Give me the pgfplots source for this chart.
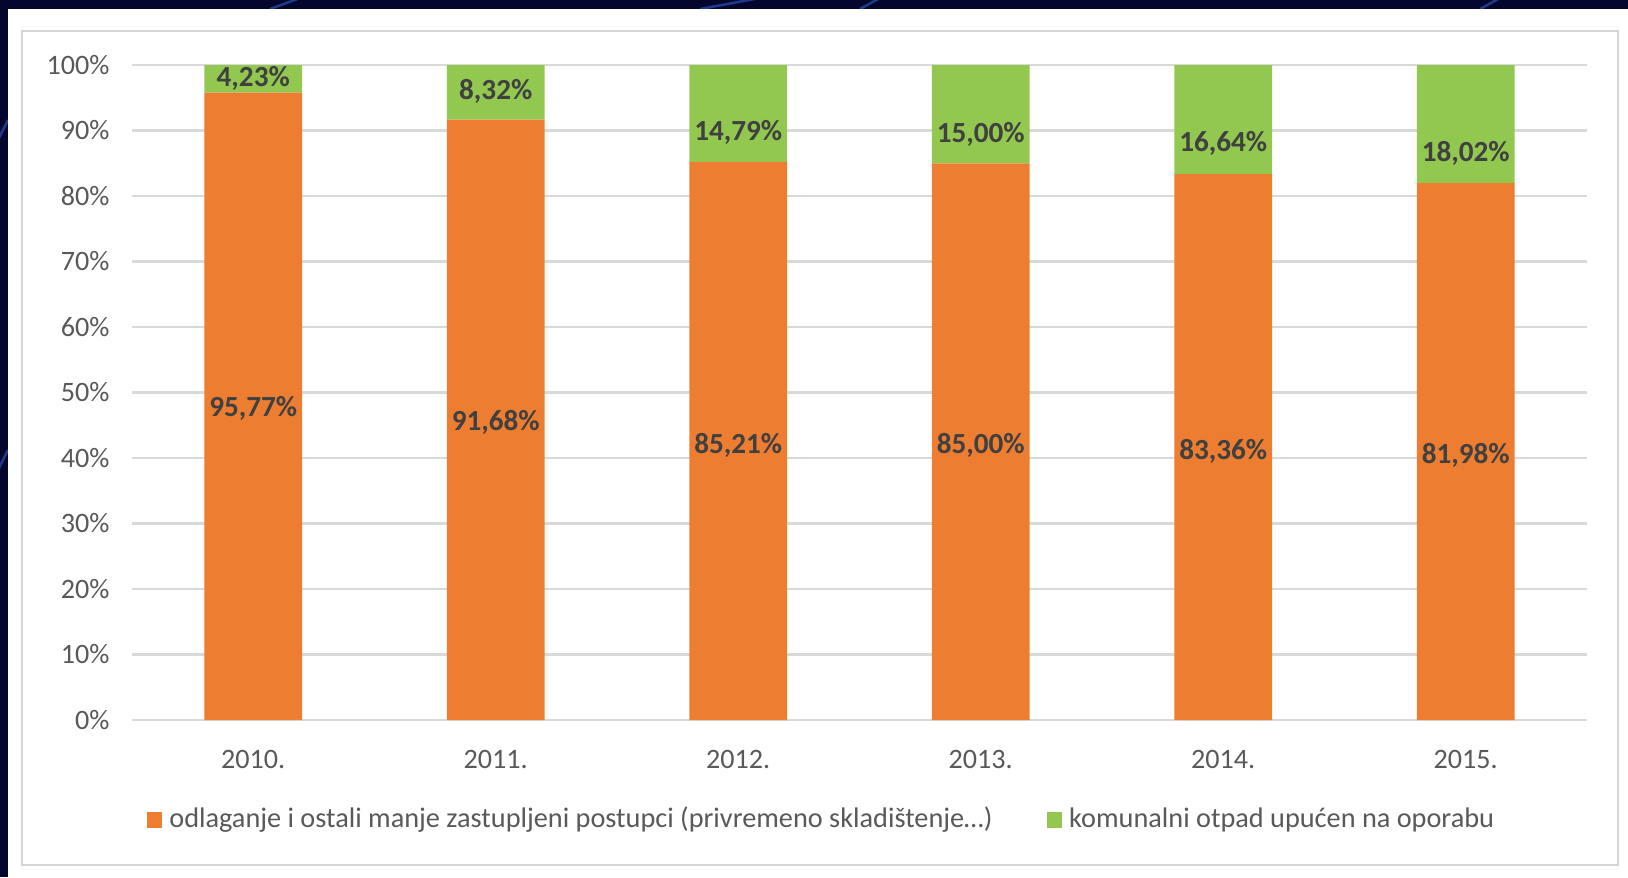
\documentclass[border=0pt]{standalone}
\usepackage{fontspec}
\setmainfont{Carlito}
\usepackage{pgfplots}
\pgfplotsset{compat=1.18}
\definecolor{navy}{HTML}{04062E}
\definecolor{navyline}{HTML}{1E3A8A}
\definecolor{orangeb}{HTML}{ED7D31}
\definecolor{greenb}{HTML}{92C850}
\definecolor{gridc}{HTML}{D9D9D9}
\definecolor{framec}{HTML}{D6D6D6}
\definecolor{tickc}{HTML}{595959}
\definecolor{labc}{HTML}{404040}

\pgfplotstableread{
x odl kom
0 95.77 4.23
1 91.68 8.32
2 85.21 14.79
3 85.00 15.00
4 83.36 16.64
5 81.98 18.02
}\shares

\pgfplotstableread{
x y label
0 47.54 95,77\%
1 45.48 91,68\%
2 42.00 85,21\%
3 42.00 85,00\%
4 41.05 83,36\%
5 40.41 81,98\%
0 97.94 4,23\%
1 96.04 8,32\%
2 89.70 14,79\%
3 89.38 15,00\%
4 87.96 16,64\%
5 86.53 18,02\%
}\labels

\begin{document}
\begin{tikzpicture}
\begin{scope}[x=0.1mm,y=-0.1mm]
\fill[navy] (0,0) rectangle (1628,877);
\draw[navyline, line width=0.25mm] (270,9) -- (300,-2);
\draw[navyline, line width=0.25mm] (700,9) -- (760,-2);
\draw[navyline, line width=0.25mm] (860,9) -- (880,-2);
\draw[navyline, line width=0.25mm] (1480,9) -- (1500,-2);
\draw[navyline, line width=0.25mm] (-2,140) -- (8,120);
\draw[navyline, line width=0.25mm] (-2,470) -- (8,450);
\fill[white] (8,9) rectangle (1628,877);
\draw[framec, line width=0.22mm] (22,31) rectangle (1618,865);
\end{scope}

\begin{axis}[
  at={(13.2mm,-72mm)}, anchor=south west,
  scale only axis, width=145.5mm, height=65.5mm,
  ybar stacked, bar width=9.76mm,
  xmin=-0.5, xmax=5.5, ymin=0, ymax=100,
  xtick={0,...,5},
  xticklabels={2010.,2011.,2012.,2013.,2014.,2015.},
  ytick={0,10,...,100},
  yticklabels={0\%,10\%,20\%,30\%,40\%,50\%,60\%,70\%,80\%,90\%,100\%},
  ymajorgrids, grid style={gridc, line width=0.22mm},
  axis line style={draw=none},
  major tick length=0pt,
  tick label style={text=tickc, font=\fontsize{8}{9.6}\selectfont},
  yticklabel style={xshift=-1.0mm},
  xticklabel style={yshift=-1.75mm},
  legend style={at={(0.4756,-0.1527)}, anchor=center, draw=none, fill=none,
    legend columns=2, font=\fontsize{8.05}{10}\selectfont, text=tickc,
    /tikz/every even column/.append style={column sep=4.7mm},
    inner sep=0pt},
  legend image code/.code={\fill[#1] (0mm,-0.8mm) rectangle (1.56mm,0.8mm);},
]
\addplot[fill=orangeb, draw=none] table[x=x, y=odl] {\shares};
\addlegendentry{odlaganje i ostali manje zastupljeni postupci (privremeno skladištenje\ldots)}
\addplot[fill=greenb, draw=none] table[x=x, y=kom] {\shares};
\addlegendentry{komunalni otpad upućen na oporabu}
\end{axis}

\begin{axis}[
  at={(13.2mm,-72mm)}, anchor=south west,
  scale only axis, width=145.5mm, height=65.5mm,
  xmin=-0.5, xmax=5.5, ymin=0, ymax=100,
  hide axis,
]
\addplot[draw=none, mark=none, nodes near coords, point meta=explicit symbolic,
  every node near coord/.style={anchor=center, text=labc,
    font=\fontsize{8.3}{9.6}\selectfont\bfseries}]
  table[x=x, y=y, meta=label] {\labels};
\end{axis}
\pgfresetboundingbox
\path (0mm,0mm) rectangle (162.8mm,-87.7mm);
\end{tikzpicture}
\end{document}
